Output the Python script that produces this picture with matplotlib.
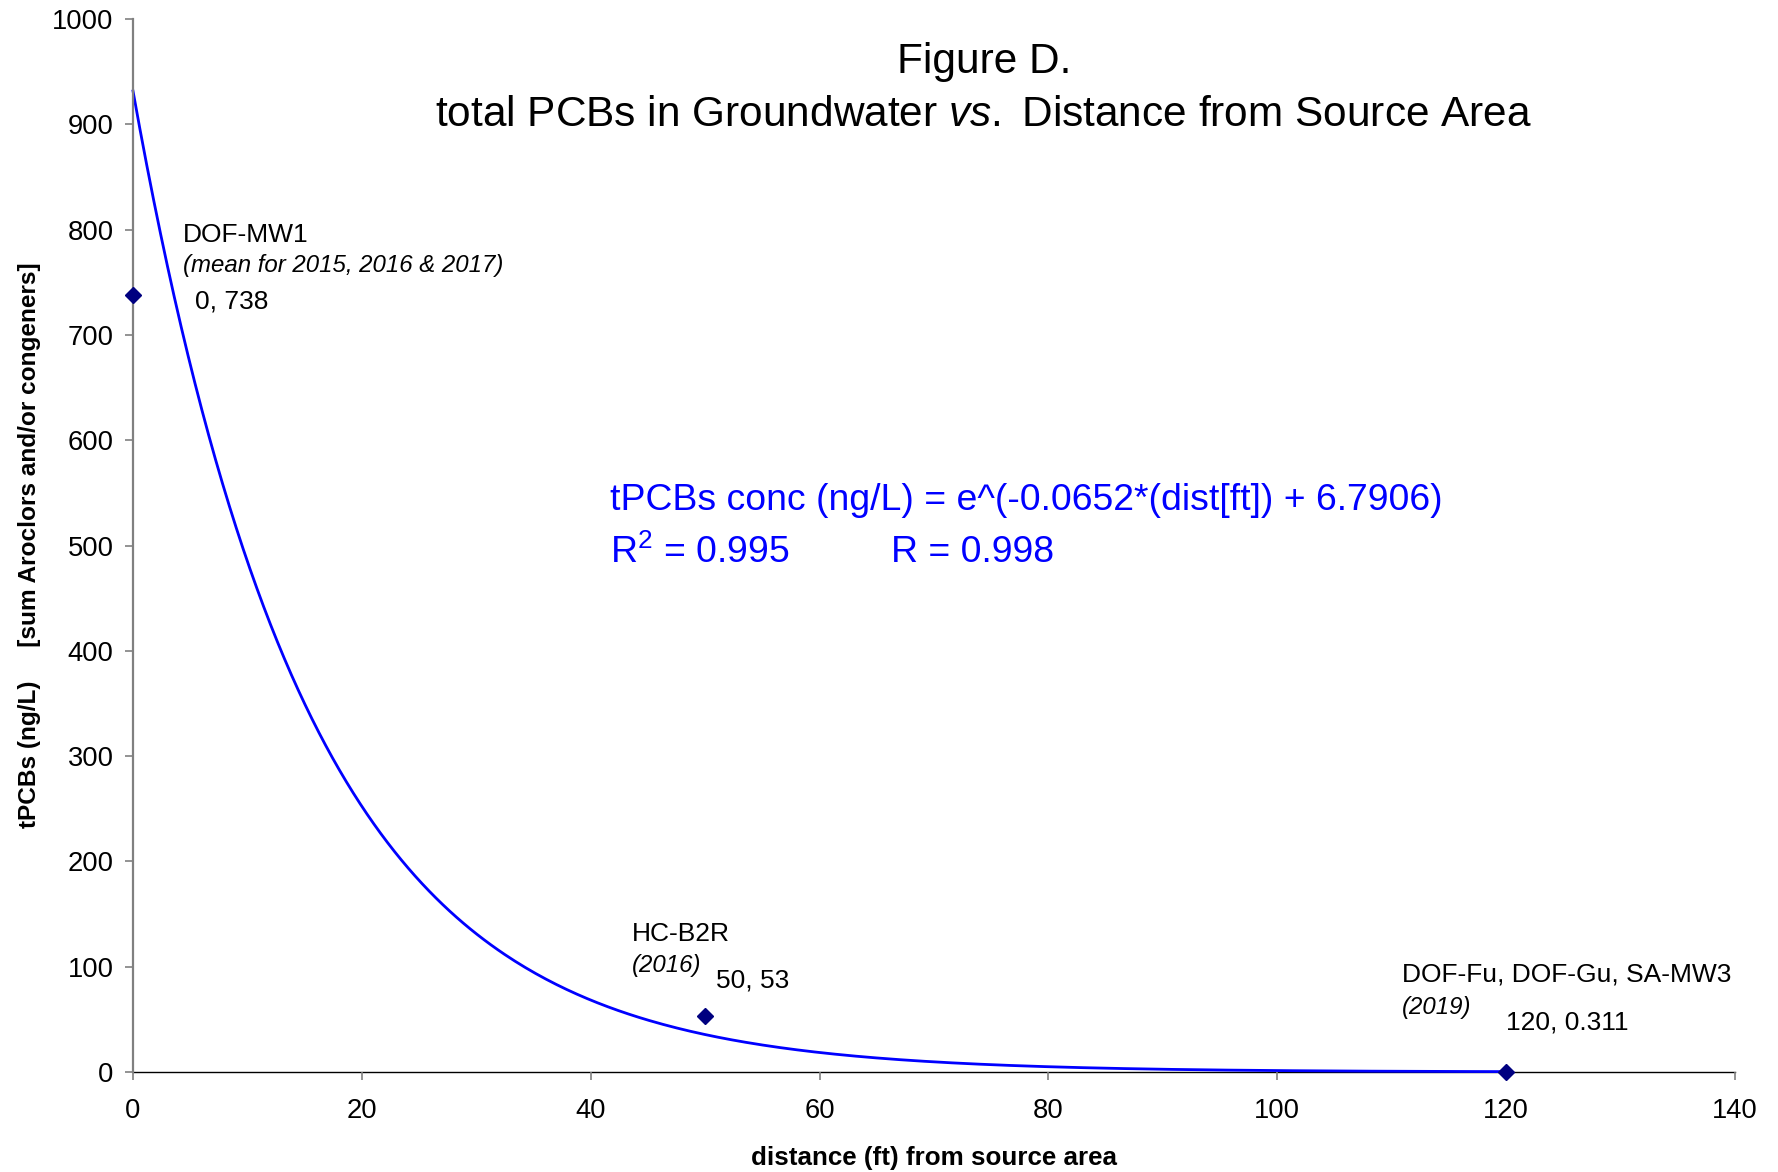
import numpy as np
import matplotlib
matplotlib.use("Agg")
import matplotlib.pyplot as plt

plt.rcParams['font.family'] = ['Liberation Sans', 'DejaVu Sans']
plt.rcParams['mathtext.fontset'] = 'custom'
plt.rcParams['mathtext.rm'] = 'Liberation Sans'
plt.rcParams['mathtext.it'] = 'Liberation Sans:italic'
plt.rcParams['mathtext.bf'] = 'Liberation Sans:bold'

# Monitoring wells: distance from source area (ft) vs total PCBs (ng/L)
distance_ft = [0, 50, 120]
tpcb_ngL = [738, 53, 0.311]
well_names = ["DOF-MW1", "HC-B2R", "DOF-Fu, DOF-Gu, SA-MW3"]
well_notes = ["(mean for 2015, 2016 & 2017)", "(2016)", "(2019)"]
value_labels = ["0, 738", "50, 53", "120, 0.311"]

x_ticks = [0, 20, 40, 60, 80, 100, 120, 140]
y_ticks = [0, 100, 200, 300, 400, 500, 600, 700, 800, 900, 1000]

equation_text = "tPCBs conc (ng/L) = e^(-0.0652*(dist[ft]) + 6.7906)"
r2_text = "R$^2$ = 0.995"
r_text = "R = 0.998"

# Exponential trendline: least squares fit of ln(conc) against distance
slope, intercept = np.polyfit(distance_ft, np.log(tpcb_ngL), 1)
xfit = np.linspace(min(distance_ft), max(distance_ft), 400)
yfit = np.exp(intercept + slope * xfit)

fig = plt.figure(figsize=(17.78, 11.72), dpi=100)
ax = fig.add_axes([133 / 1778, 1 - 1072 / 1172, (1735 - 133) / 1778, (1072 - 19) / 1172])

ax.plot(xfit, yfit, color='#0000ff', lw=2.0, zorder=2, clip_on=False)
ax.plot(distance_ft, tpcb_ngL, linestyle='none', marker='D', ms=8.2,
        color='#000080', zorder=3, clip_on=False)

ax.set_xlim(0, 140)
ax.set_ylim(0, 1000)
ax.set_xticks(x_ticks)
ax.set_yticks(y_ticks)
ax.tick_params(axis='both', labelsize=19.7, direction='out', length=6,
               width=1.2, color='#808080')
ax.tick_params(axis='x', pad=12.5)
ax.tick_params(axis='y', pad=8)

for side in ('top', 'right'):
    ax.spines[side].set_visible(False)
ax.spines['left'].set_color('#808080')
ax.spines['left'].set_linewidth(1.6)
ax.spines['bottom'].set_color('black')
ax.spines['bottom'].set_linewidth(1.0)
ax.spines['bottom'].set_zorder(1)

ax.set_xlabel("distance (ft) from source area", fontsize=18.7, fontweight='bold')
ax.xaxis.set_label_coords(0.5, (1072 - 1146) / 1053)
ax.set_ylabel("tPCBs (ng/L)     [sum Aroclors and/or congeners]", fontsize=17.6,
              fontweight='bold')
ax.yaxis.set_label_coords((41 - 133) / 1602, 0.5)

# Point annotations (offsets in pixels from each marker)
name_offsets = [(50, 60), (-73, 82), (-104, 97)]
note_offsets = [(50, 29), (-73, 51), (-104, 64)]
value_offsets = [(62, -7), (11, 36), (0, 49)]
for i in range(len(distance_ft)):
    xy = (distance_ft[i], tpcb_ngL[i])
    ax.annotate(well_names[i], xy=xy, xytext=name_offsets[i], textcoords='offset pixels',
                fontsize=19, ha='left', va='center', annotation_clip=False)
    ax.annotate(well_notes[i], xy=xy, xytext=note_offsets[i], textcoords='offset pixels',
                fontsize=17.3, style='italic', ha='left', va='center', annotation_clip=False)
    ax.annotate(value_labels[i], xy=xy, xytext=value_offsets[i], textcoords='offset pixels',
                fontsize=19, ha='left', va='center', annotation_clip=False)

# Fit equation
ax.text(610 / 1778, 1 - 500 / 1172, equation_text, transform=fig.transFigure,
        fontsize=26.9, color='#0000ff', ha='left', va='center')
ax.text(610 / 1778, 1 - 553 / 1172, r2_text, transform=fig.transFigure,
        fontsize=26.9, color='#0000ff', ha='left', va='center')
ax.text(891 / 1778, 1 - 553 / 1172, r_text, transform=fig.transFigure,
        fontsize=26.9, color='#0000ff', ha='left', va='center')

# Title
fig.text(984 / 1778, 1 - 62 / 1172, "Figure D.", fontsize=30.5, ha='center', va='center')
fig.text(984 / 1778, 1 - 115 / 1172,
         r"total PCBs in Groundwater $\mathit{vs.}$ Distance from Source Area",
         fontsize=30.5, ha='center', va='center')

fig.savefig("out.png", dpi=100)
